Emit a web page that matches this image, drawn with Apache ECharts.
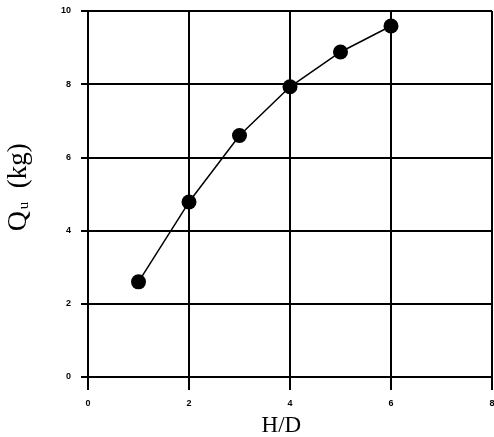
<!DOCTYPE html>
<html>
<head>
<meta charset="utf-8">
<script src="https://cdn.jsdelivr.net/npm/echarts@6/dist/echarts.min.js"></script>
<style>
  html, body { margin: 0; padding: 0; background: #fff; }
  #chart { width: 494px; height: 437px; }
</style>
</head>
<body>
<div id="chart"></div>
<script>
// H/D ratio vs ultimate load
const ratioHD = [1, 2, 3, 4, 5, 6];
const loadQu = [2.6, 4.78, 6.6, 7.93, 8.88, 9.59];

const chart = echarts.init(document.getElementById('chart'));

const tickLabel = {
  color: '#000',
  fontFamily: 'Liberation Sans',
  fontWeight: 'bold',
  fontSize: 9,
};

const option = {
  animation: false,
  backgroundColor: '#fff',
  grid: { left: 88, right: 2, top: 11, bottom: 60, outerBoundsMode: 'none' },
  xAxis: {
    type: 'value',
    min: 0,
    max: 8,
    interval: 2,
    name: 'H/D   ',
    nameLocation: 'middle',
    nameGap: 37,
    nameTextStyle: { color: '#000', fontFamily: 'Liberation Serif', fontSize: 23 },
    axisLine: { show: true, lineStyle: { color: '#000', width: 2 } },
    axisTick: { show: true, length: 13, lineStyle: { color: '#000', width: 2 } },
    axisLabel: Object.assign({ margin: 22 }, tickLabel),
    splitLine: { show: true, lineStyle: { color: '#000', width: 2 } },
  },
  yAxis: {
    type: 'value',
    min: 0,
    max: 10,
    interval: 2,
    name: '{k|  }{q|Q}{u|u}{k|  (kg)}',
    nameLocation: 'middle',
    nameRotate: 90,
    nameGap: 55,
    nameTextStyle: {
      color: '#000',
      rich: {
        q: { fontFamily: 'Liberation Serif', fontSize: 28, color: '#000' },
        u: { fontFamily: 'Liberation Serif', fontSize: 15, color: '#000', padding: [10, 0, 0, 2] },
        k: { fontFamily: 'Liberation Serif', fontSize: 27, color: '#000' },
      },
    },
    axisLine: { show: true, lineStyle: { color: '#000', width: 2 } },
    axisTick: { show: true, length: 7, lineStyle: { color: '#000', width: 2 } },
    axisLabel: Object.assign({ margin: 17 }, tickLabel),
    splitLine: { show: true, lineStyle: { color: '#000', width: 2 } },
  },
  series: [
    {
      type: 'line',
      data: ratioHD.map((x, i) => [x, loadQu[i]]),
      symbol: 'circle',
      symbolSize: 15,
      itemStyle: { color: '#000' },
      lineStyle: { color: '#000', width: 1.5 },
    },
  ],
};

chart.setOption(option);
</script>
</body>
</html>
